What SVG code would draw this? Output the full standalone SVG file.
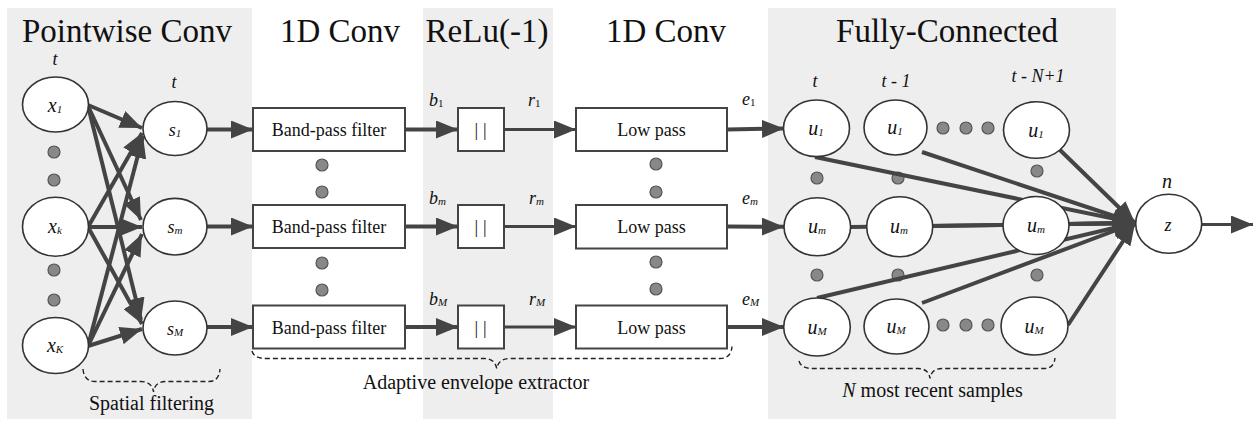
<svg xmlns="http://www.w3.org/2000/svg" width="1253" height="421" viewBox="0 0 1253 421">
<defs>
<marker id="ah" markerUnits="userSpaceOnUse" viewBox="0 0 22 18" markerWidth="22" markerHeight="18" refX="22" refY="9" orient="auto">
<path d="M0,0 L22,9 L0,18 z" fill="#444"/>
</marker>
</defs>
<style>
.panel{fill:#eeeeee;}
text{font-family:'Liberation Serif','Tinos','Times New Roman','DejaVu Serif',serif;}
.title{font-size:33px;fill:#111;text-anchor:middle;}
.node{fill:#fff;stroke:#333;stroke-width:1.6;}
.box{fill:#fff;stroke:#444;stroke-width:2;}
.btxt{font-size:18px;fill:#111;text-anchor:middle;}
.var{font-style:italic;font-size:20px;fill:#111;text-anchor:middle;}
.lab{font-style:italic;font-size:18px;fill:#111;}
.sub{font-size:11px;}
.up{font-style:normal;}
.dot{fill:#888;stroke:#555;stroke-width:1.2;}
.c{stroke:#444;stroke-width:4;fill:none;marker-end:url(#ah);}
.c3{stroke:#444;stroke-width:3;fill:none;marker-end:url(#ah);}
.brace{fill:none;stroke:#222;stroke-width:1.4;stroke-dasharray:5,3;}
.cap{font-size:20px;fill:#111;text-anchor:middle;}
</style>

<g id="panels">
<rect class="panel" x="7" y="8" width="245" height="411"/>
<rect class="panel" x="423" y="8" width="130" height="411"/>
<rect class="panel" x="768" y="8" width="348" height="411"/>
</g>

<g id="titles">
<text class="title" x="127" y="42">Pointwise Conv</text>
<text class="title" x="340" y="42">1D Conv</text>
<text class="title" x="487" y="42">ReLu(-1)</text>
<text class="title" x="666" y="42">1D Conv</text>
<text class="title" x="947" y="42">Fully-Connected</text>
</g>

<g id="dots">
<circle class="dot" cx="54" cy="152" r="6"/>
<circle class="dot" cx="54" cy="180" r="6"/>
<circle class="dot" cx="54" cy="270" r="6"/>
<circle class="dot" cx="54" cy="300" r="6"/>
<circle class="dot" cx="322" cy="165" r="6"/>
<circle class="dot" cx="322" cy="192" r="6"/>
<circle class="dot" cx="322" cy="263" r="6"/>
<circle class="dot" cx="322" cy="290" r="6"/>
<circle class="dot" cx="656" cy="164" r="6"/>
<circle class="dot" cx="656" cy="192" r="6"/>
<circle class="dot" cx="656" cy="262" r="6"/>
<circle class="dot" cx="656" cy="289" r="6"/>
<circle class="dot" cx="817" cy="178" r="6"/>
<circle class="dot" cx="898" cy="178" r="6"/>
<circle class="dot" cx="1037" cy="171" r="6"/>
<circle class="dot" cx="817" cy="275" r="6"/>
<circle class="dot" cx="898" cy="275" r="6"/>
<circle class="dot" cx="1037" cy="275" r="6"/>
<circle class="dot" cx="943" cy="128" r="6"/>
<circle class="dot" cx="966" cy="128" r="6"/>
<circle class="dot" cx="988" cy="128" r="6"/>
<circle class="dot" cx="943" cy="325" r="6"/>
<circle class="dot" cx="966" cy="325" r="6"/>
<circle class="dot" cx="988" cy="325" r="6"/>
</g>

<g id="connectors">
<path class="c" d="M88,105 L142,128"/>
<path class="c" d="M88,227 L142,133"/>
<path class="c" d="M88,346 L143,136"/>
<path class="c" d="M88,106 L141,220"/>
<path class="c" d="M88,227 L142,227"/>
<path class="c" d="M88,346 L142,234"/>
<path class="c" d="M88,106 L141,320"/>
<path class="c" d="M88,227 L142,324"/>
<path class="c" d="M88,346 L142,329"/>
<path class="c" d="M207,129.5 L253,129.5"/>
<path class="c" d="M207,226.5 L253,226.5"/>
<path class="c" d="M207,327 L253,327"/>
<path class="c" d="M405,129.5 L458,129.5"/>
<path class="c" d="M405,226.5 L458,226.5"/>
<path class="c" d="M405,327 L458,327"/>
<path class="c3" d="M504,129.5 L576,129.5"/>
<path class="c3" d="M504,226.5 L576,226.5"/>
<path class="c3" d="M504,327 L576,327"/>
<path class="c" d="M727,129.5 L784,128.5"/>
<path class="c" d="M727,226.5 L784,226.7"/>
<path class="c" d="M727,327 L784,327"/>
<path class="c" d="M815,157 L1135,223"/>
<path class="c" d="M922,152 L1135,223"/>
<path class="c" d="M1060,150 L1135,223"/>
<path class="c" d="M851,227 L1135,223"/>
<path class="c" d="M933,226 L1135,223"/>
<path class="c" d="M1069,224 L1135,223"/>
<path class="c" d="M817,298 L1135,223"/>
<path class="c" d="M922,303 L1135,223"/>
<path class="c" d="M1068,325 L1135,223"/>
<path class="c3" d="M1202,224.5 L1253,224.5"/>
</g>

<g id="node-x1"><ellipse class="node" cx="55.5" cy="104.5" rx="33" ry="27.5"/><text class="var" x="55" y="112">x<tspan class="sub" dy="1">1</tspan></text><text class="lab" x="55" y="65" text-anchor="middle">t</text></g>
<g id="node-xk"><ellipse class="node" cx="55.5" cy="226.7" rx="33" ry="29.5"/><text class="var" x="55" y="233">x<tspan class="sub" dy="1">k</tspan></text></g>
<g id="node-xK"><ellipse class="node" cx="55.5" cy="345.5" rx="33" ry="28"/><text class="var" x="55" y="352">x<tspan class="sub" dy="1">K</tspan></text></g>

<g id="node-s1"><ellipse class="node" cx="175" cy="128.5" rx="32" ry="27"/><text class="var" x="175" y="136" style="font-size:18px">s<tspan class="sub" dy="1">1</tspan></text><text class="lab" x="174" y="88" text-anchor="middle">t</text></g>
<g id="node-sm"><ellipse class="node" cx="175" cy="226.7" rx="32" ry="28.3"/><text class="var" x="175" y="233" style="font-size:18px">s<tspan class="sub" dy="1">m</tspan></text></g>
<g id="node-sM"><ellipse class="node" cx="175" cy="328" rx="32" ry="27"/><text class="var" x="175" y="335" style="font-size:18px">s<tspan class="sub" dy="1">M</tspan></text></g>

<g id="bpf-1"><rect class="box" x="253" y="108" width="152" height="43"/><text class="btxt" x="329" y="136">Band-pass filter</text></g>
<g id="bpf-m"><rect class="box" x="253" y="205" width="152" height="43"/><text class="btxt" x="329" y="233">Band-pass filter</text></g>
<g id="bpf-M"><rect class="box" x="253" y="305.5" width="152" height="43"/><text class="btxt" x="329" y="333.5">Band-pass filter</text></g>

<g id="relu-1"><rect class="box" x="458" y="108" width="46" height="43"/><text class="btxt" x="483" y="136" letter-spacing="5">||</text></g>
<g id="relu-m"><rect class="box" x="458" y="205" width="46" height="43"/><text class="btxt" x="483" y="233" letter-spacing="5">||</text></g>
<g id="relu-M"><rect class="box" x="458" y="305.5" width="46" height="43"/><text class="btxt" x="483" y="333.5" letter-spacing="5">||</text></g>

<g id="lp-1"><rect class="box" x="576" y="108" width="151" height="43"/><text class="btxt" x="651.5" y="136">Low pass</text></g>
<g id="lp-m"><rect class="box" x="576" y="205" width="151" height="43.5"/><text class="btxt" x="651.5" y="233">Low pass</text></g>
<g id="lp-M"><rect class="box" x="576" y="305.5" width="151" height="43"/><text class="btxt" x="651.5" y="333.5">Low pass</text></g>

<g id="signal-labels">
<text class="lab" x="429" y="106">b<tspan class="sub up" dy="1">1</tspan></text>
<text class="lab" x="429" y="204">b<tspan class="sub" dy="1">m</tspan></text>
<text class="lab" x="429" y="305">b<tspan class="sub" dy="1">M</tspan></text>
<text class="lab" x="528" y="106">r<tspan class="sub up" dy="1">1</tspan></text>
<text class="lab" x="529" y="204">r<tspan class="sub" dy="1">m</tspan></text>
<text class="lab" x="529" y="305">r<tspan class="sub" dy="1">M</tspan></text>
<text class="lab" x="742" y="105">e<tspan class="sub up" dy="1">1</tspan></text>
<text class="lab" x="742" y="204">e<tspan class="sub" dy="1">m</tspan></text>
<text class="lab" x="742" y="305">e<tspan class="sub" dy="1">M</tspan></text>
</g>

<g id="node-u1-t"><ellipse class="node" cx="816.5" cy="128.3" rx="33" ry="28.3"/><text class="var" x="816" y="135">u<tspan class="sub" dy="1">1</tspan></text><text class="lab" x="815" y="87" text-anchor="middle">t</text></g>
<g id="node-u1-t1"><ellipse class="node" cx="895.5" cy="127.5" rx="31.5" ry="27.5"/><text class="var" x="895" y="134">u<tspan class="sub" dy="1">1</tspan></text><text class="lab" x="896" y="87" text-anchor="middle">t - 1</text></g>
<g id="node-u1-tN"><ellipse class="node" cx="1036.5" cy="130" rx="33" ry="28.3"/><text class="var" x="1036" y="137">u<tspan class="sub" dy="1">1</tspan></text><text class="lab" x="1038" y="82" text-anchor="middle">t - N+1</text></g>

<g id="node-um-t"><ellipse class="node" cx="817.3" cy="226.8" rx="33.3" ry="29"/><text class="var" x="817" y="233">u<tspan class="sub" dy="1">m</tspan></text></g>
<g id="node-um-t1"><ellipse class="node" cx="899.7" cy="226.7" rx="33" ry="30"/><text class="var" x="899" y="233">u<tspan class="sub" dy="1">m</tspan></text></g>
<g id="node-um-tN"><ellipse class="node" cx="1036" cy="225.5" rx="33" ry="29"/><text class="var" x="1036" y="232">u<tspan class="sub" dy="1">m</tspan></text></g>

<g id="node-uM-t"><ellipse class="node" cx="817" cy="327" rx="33.3" ry="29"/><text class="var" x="817" y="334">u<tspan class="sub" dy="1">M</tspan></text></g>
<g id="node-uM-t1"><ellipse class="node" cx="896.5" cy="326.5" rx="32.5" ry="27.5"/><text class="var" x="896" y="333">u<tspan class="sub" dy="1">M</tspan></text></g>
<g id="node-uM-tN"><ellipse class="node" cx="1034.5" cy="326" rx="33.5" ry="29"/><text class="var" x="1034" y="333">u<tspan class="sub" dy="1">M</tspan></text></g>

<g id="node-z"><ellipse class="node" cx="1168.7" cy="223.8" rx="33" ry="29.5"/><text class="var" x="1168" y="231" style="font-size:18px">z</text><text class="lab" x="1167" y="188" text-anchor="middle" style="font-size:20px">n</text></g>

<g id="brace-spatial">
<path class="brace" d="M83,369 Q84,381.5 95,381.5 L141,381.5 Q152,381.5 153.5,392 Q155,381.5 166,381.5 L209,381.5 Q219,381.5 220,369"/>
<text class="cap" x="151.5" y="410">Spatial filtering</text>
</g>
<g id="brace-envelope">
<path class="brace" d="M252,351 Q254,358.5 266,358.5 L484,358.5 Q495,358.5 496.7,368.5 Q498.5,358.5 510,358.5 L720,358.5 Q731,358.5 732,346.5"/>
<text class="cap" x="476" y="389">Adaptive envelope extractor</text>
</g>
<g id="brace-samples">
<path class="brace" d="M799,361 Q801,368.5 812,368.5 L918,368.5 Q928.5,368.5 930,378.5 Q931.5,368.5 942,368.5 L1044,368.5 Q1054,368.5 1055,358"/>
<text class="cap" x="932.5" y="397"><tspan font-style="italic">N</tspan> most recent samples</text>
</g>
</svg>
